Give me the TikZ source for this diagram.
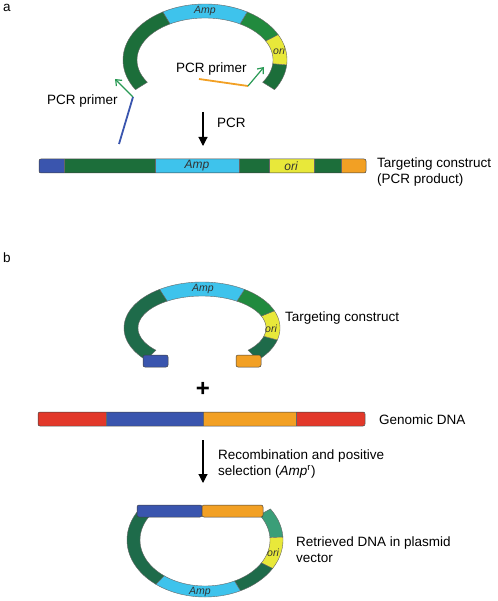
\documentclass[tikz,border=0pt]{standalone}
\usepackage{fontspec}
\setmainfont{Liberation Sans}
\usetikzlibrary{arrows.meta}
\definecolor{dg}{HTML}{1C6E3A}
\definecolor{mg}{HTML}{218A3E}
\definecolor{tg}{HTML}{1E6B4A}
\definecolor{lg}{HTML}{3A9E78}
\definecolor{cy}{HTML}{3EC3EC}
\definecolor{ye}{HTML}{E8E83A}
\definecolor{bl}{HTML}{3A55AE}
\definecolor{og}{HTML}{F2A024}
\definecolor{rd}{HTML}{E2382A}
\definecolor{pg}{HTML}{2A9A55}
\newcommand\ringseg[9]{%
  \filldraw[fill=#9,draw=black!60,line width=0.4pt]
    plot[domain=#7:#8,samples=40,smooth] ({#1+#3*cos(\x)},{#2-#4*sin(\x)})
    -- plot[domain=#8:#7,samples=40,smooth] ({#1+#5*cos(\x)},{#2-#6*sin(\x)}) -- cycle;}
\tikzset{
  lbl/.style={font=\fontsize{13.5}{16}\selectfont,inner sep=0pt,anchor=west,align=left},
  seglbl/.style={font=\fontsize{12}{14}\selectfont\itshape,inner sep=0pt,text=black!80},
  ringlbl/.style={font=\fontsize{10.5}{12}\selectfont\itshape,inner sep=0pt,text=black!80},
  bigarrow/.style={-{Triangle[length=9pt,width=9pt]},line width=1.1pt},
  primerarrow/.style={-{Straight Barb[length=5pt,width=8pt]},draw=pg,line width=1.2pt},
  barbox/.style={draw=black!75,line width=0.5pt,rounded corners=2pt},
}
\begin{document}
\begin{tikzpicture}[x=1pt,y=-1pt]
\useasboundingbox (0,0) rectangle (497,601);
\fill[white] (0,0) rectangle (497,601);
% ---------------- a ----------------
\node[lbl] (la) at (3,8) {a};
\ringseg{205}{60}{82}{56}{68}{42}{-32}{-5}{dg}
\ringseg{205}{60}{82}{56}{68}{42}{-5}{27}{ye}
\ringseg{205}{60}{82}{56}{68}{42}{27}{59}{mg}
\ringseg{205}{60}{82}{56}{68}{42}{59}{121}{cy}
\ringseg{205}{60}{82}{56}{68}{42}{121}{212}{dg}
\node[ringlbl] (ampa) at (205,11) {Amp};
\node[ringlbl] (oria) at (279,51) {ori};
% primers
\coordinate (p1a) at (119,144);
\coordinate (p1b) at (133,97);
\coordinate (p1c) at (115,79);
\draw[bl,line width=1.8pt] (p1a) -- (p1b);
\draw[primerarrow] (p1b) -- (p1c);
\node[lbl] (pp1) at (47,101) {PCR primer};
\coordinate (p2a) at (199,79);
\coordinate (p2b) at (248,86);
\coordinate (p2c) at (264,67);
\draw[og,line width=1.8pt] (p2a) -- (p2b);
\draw[primerarrow] (p2b) -- (p2c);
\node[lbl] (pp2) at (176,69) {PCR primer};
% PCR arrow
\coordinate (pcrA) at (203,112);
\coordinate (pcrB) at (203,146);
\draw[bigarrow] (pcrA) -- (pcrB);
\node[lbl] (pcr) at (217,123) {PCR};
% linear bar
\begin{scope}
\clip[rounded corners=2pt] (39,159) rectangle (366,173);
\fill[bl] (39,159) rectangle (64,173);
\fill[dg] (64,159) rectangle (155,173);
\fill[cy] (155,159) rectangle (239,173);
\fill[dg] (239,159) rectangle (269,173);
\fill[ye] (269,159) rectangle (314,173);
\fill[dg] (314,159) rectangle (341,173);
\fill[og] (341,159) rectangle (366,173);
\draw[black!60,line width=0.4pt] (64,159) -- (64,173) (155,159) -- (155,173) (239,159) -- (239,173)
  (269,159) -- (269,173) (314,159) -- (314,173) (341,159) -- (341,173);
\end{scope}
\draw[barbox] (39,159) rectangle (366,173);
\node[seglbl] (ampbar) at (197,166) {Amp};
\node[seglbl] (oribar) at (291,166) {ori};
\node[lbl] (tc1) at (377,172) {Targeting construct\\(PCR product)};
% ---------------- b ----------------
\node[lbl] (lb) at (3,258) {b};
\ringseg{202}{328}{78}{46}{64}{32}{-44}{-15}{tg}
\ringseg{202}{328}{78}{46}{64}{32}{-15}{22}{ye}
\ringseg{202}{328}{78}{46}{64}{32}{22}{57}{mg}
\ringseg{202}{328}{78}{46}{64}{32}{57}{123}{cy}
\ringseg{202}{328}{78}{46}{64}{32}{123}{224}{tg}
\draw[barbox,fill=bl] (143,355) rectangle (168,367);
\draw[barbox,fill=og] (236,355) rectangle (261,367);
\node[ringlbl] (ampb) at (203,289) {Amp};
\node[ringlbl] (orib) at (271,329) {ori};
\node[lbl] (tc2) at (285,318) {Targeting construct};
\node[font=\fontsize{24}{24}\selectfont\bfseries,inner sep=0pt] (plus) at (203,389) {+};
% genomic DNA
\begin{scope}
\clip[rounded corners=2pt] (38,412) rectangle (365,426);
\fill[rd] (38,412) rectangle (106,426);
\fill[bl] (106,412) rectangle (203,426);
\fill[og] (203,412) rectangle (296,426);
\fill[rd] (296,412) rectangle (365,426);
\draw[black!60,line width=0.4pt] (106,412) -- (106,426) (203,412) -- (203,426) (296,412) -- (296,426);
\end{scope}
\draw[barbox] (38,412) rectangle (365,426);
\node[lbl] (gdna) at (379,420) {Genomic DNA};
% arrow 2
\coordinate (recA) at (203,440);
\coordinate (recB) at (203,483);
\draw[bigarrow] (recA) -- (recB);
\node[lbl] (rec) at (218,464) {Recombination and positive\\selection (\textit{Amp}\textsuperscript{r})};
% retrieved plasmid
\ringseg{205}{540}{78}{57}{65}{46}{3}{33}{lg}
\ringseg{205}{540}{78}{57}{65}{46}{-30}{3}{ye}
\ringseg{205}{540}{78}{57}{65}{46}{-63}{-30}{tg}
\ringseg{205}{540}{78}{57}{65}{46}{-129}{-63}{cy}
\ringseg{205}{540}{78}{57}{65}{46}{147}{231}{tg}
\draw[barbox,fill=bl] (137,505) rectangle (202,517);
\draw[barbox,fill=og] (202,505) rectangle (263,517);
\node[ringlbl] (ampc) at (200,592) {Amp};
\node[ringlbl] (oric) at (273,553) {ori};
\node[lbl] (ret) at (296,550) {Retrieved DNA in plasmid\\vector};
\end{tikzpicture}
\end{document}
